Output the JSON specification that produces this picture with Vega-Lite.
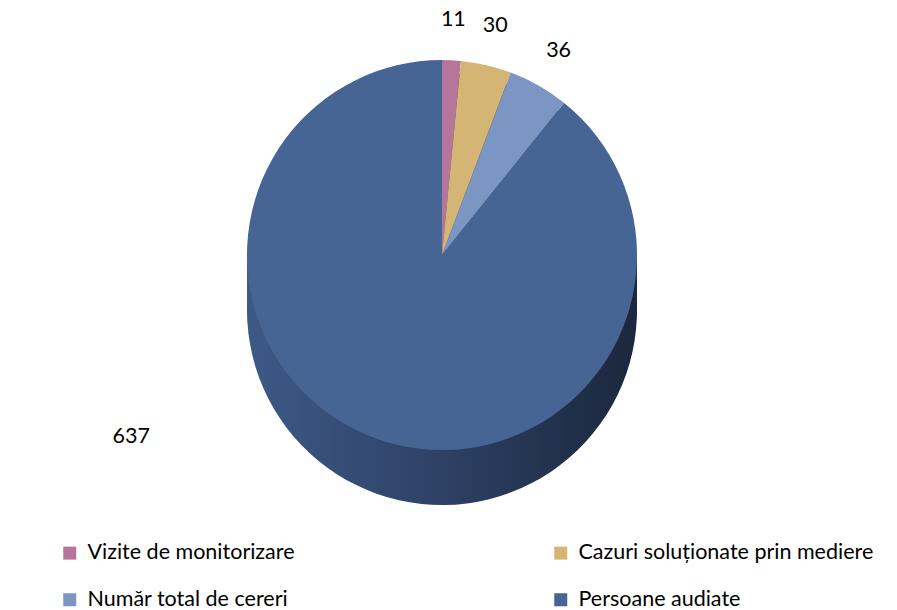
{
  "$schema": "https://vega.github.io/schema/vega-lite/v6.json",
  "width": 884,
  "height": 510,
  "padding": {"left": 0, "top": 0, "right": 13, "bottom": 0},
  "background": "white",
  "data": {
    "values": [
      {"categorie": "Vizite de monitorizare", "valoare": 11, "ord": 1},
      {"categorie": "Cazuri soluționate prin mediere", "valoare": 30, "ord": 2},
      {"categorie": "Număr total de cereri", "valoare": 36, "ord": 3},
      {"categorie": "Persoane audiate", "valoare": 637, "ord": 4}
    ]
  },
  "encoding": {
    "theta": {"field": "valoare", "type": "quantitative", "stack": true},
    "order": {"field": "ord", "type": "quantitative"}
  },
  "layer": [
    {
      "mark": {"type": "arc", "outerRadius": 195, "yOffset": 55,
        "fill": {"gradient": "linear", "x1": 0, "y1": 0, "x2": 1, "y2": 0,
          "stops": [{"offset": 0, "color": "#3e5987"}, {"offset": 0.5, "color": "#2d4165"}, {"offset": 1, "color": "#1b273c"}]}}
    },
    {
      "mark": {"type": "arc", "outerRadius": 195, "yOffset": 41,
        "fill": {"gradient": "linear", "x1": 0, "y1": 0, "x2": 1, "y2": 0,
          "stops": [{"offset": 0, "color": "#3e5987"}, {"offset": 0.5, "color": "#2d4165"}, {"offset": 1, "color": "#1b273c"}]}}
    },
    {
      "mark": {"type": "arc", "outerRadius": 195, "yOffset": 27,
        "fill": {"gradient": "linear", "x1": 0, "y1": 0, "x2": 1, "y2": 0,
          "stops": [{"offset": 0, "color": "#3e5987"}, {"offset": 0.5, "color": "#2d4165"}, {"offset": 1, "color": "#1b273c"}]}}
    },
    {
      "mark": {"type": "arc", "outerRadius": 195, "yOffset": 13,
        "fill": {"gradient": "linear", "x1": 0, "y1": 0, "x2": 1, "y2": 0,
          "stops": [{"offset": 0, "color": "#3e5987"}, {"offset": 0.5, "color": "#2d4165"}, {"offset": 1, "color": "#1b273c"}]}}
    },
    {
      "mark": {"type": "arc", "outerRadius": 195},
      "encoding": {
        "color": {
          "field": "categorie",
          "type": "nominal",
          "scale": {
            "domain": ["Vizite de monitorizare", "Număr total de cereri", "Cazuri soluționate prin mediere", "Persoane audiate"],
            "range": ["#b6759a", "#7b96c3", "#d5b574", "#466595"]
          },
          "legend": {
            "title": null,
            "orient": "none",
            "legendX": 59,
            "legendY": 542,
            "columns": 2,
            "columnPadding": 255,
            "rowPadding": 24,
            "symbolType": "square",
            "symbolSize": 169,
            "symbolStrokeWidth": 0,
            "labelFont": "Lato",
            "labelFontSize": 21.5,
            "labelColor": "#000000",
            "labelOffset": 7,
            "labelLimit": 400
          }
        }
      }
    },
    {
      "transform": [{"filter": "datum.valoare < 100"}],
      "mark": {"type": "text", "radius": 235, "font": "Lato", "fontSize": 21.5, "color": "#000000"},
      "encoding": {"text": {"field": "valoare", "type": "quantitative"}}
    },
    {
      "transform": [{"filter": "datum.valoare >= 100"}],
      "mark": {"type": "text", "radius": 360, "font": "Lato", "fontSize": 21.5, "color": "#000000", "thetaOffset": 1.38},
      "encoding": {"text": {"field": "valoare", "type": "quantitative"}}
    }
  ],
  "config": {"view": {"stroke": null}}
}
